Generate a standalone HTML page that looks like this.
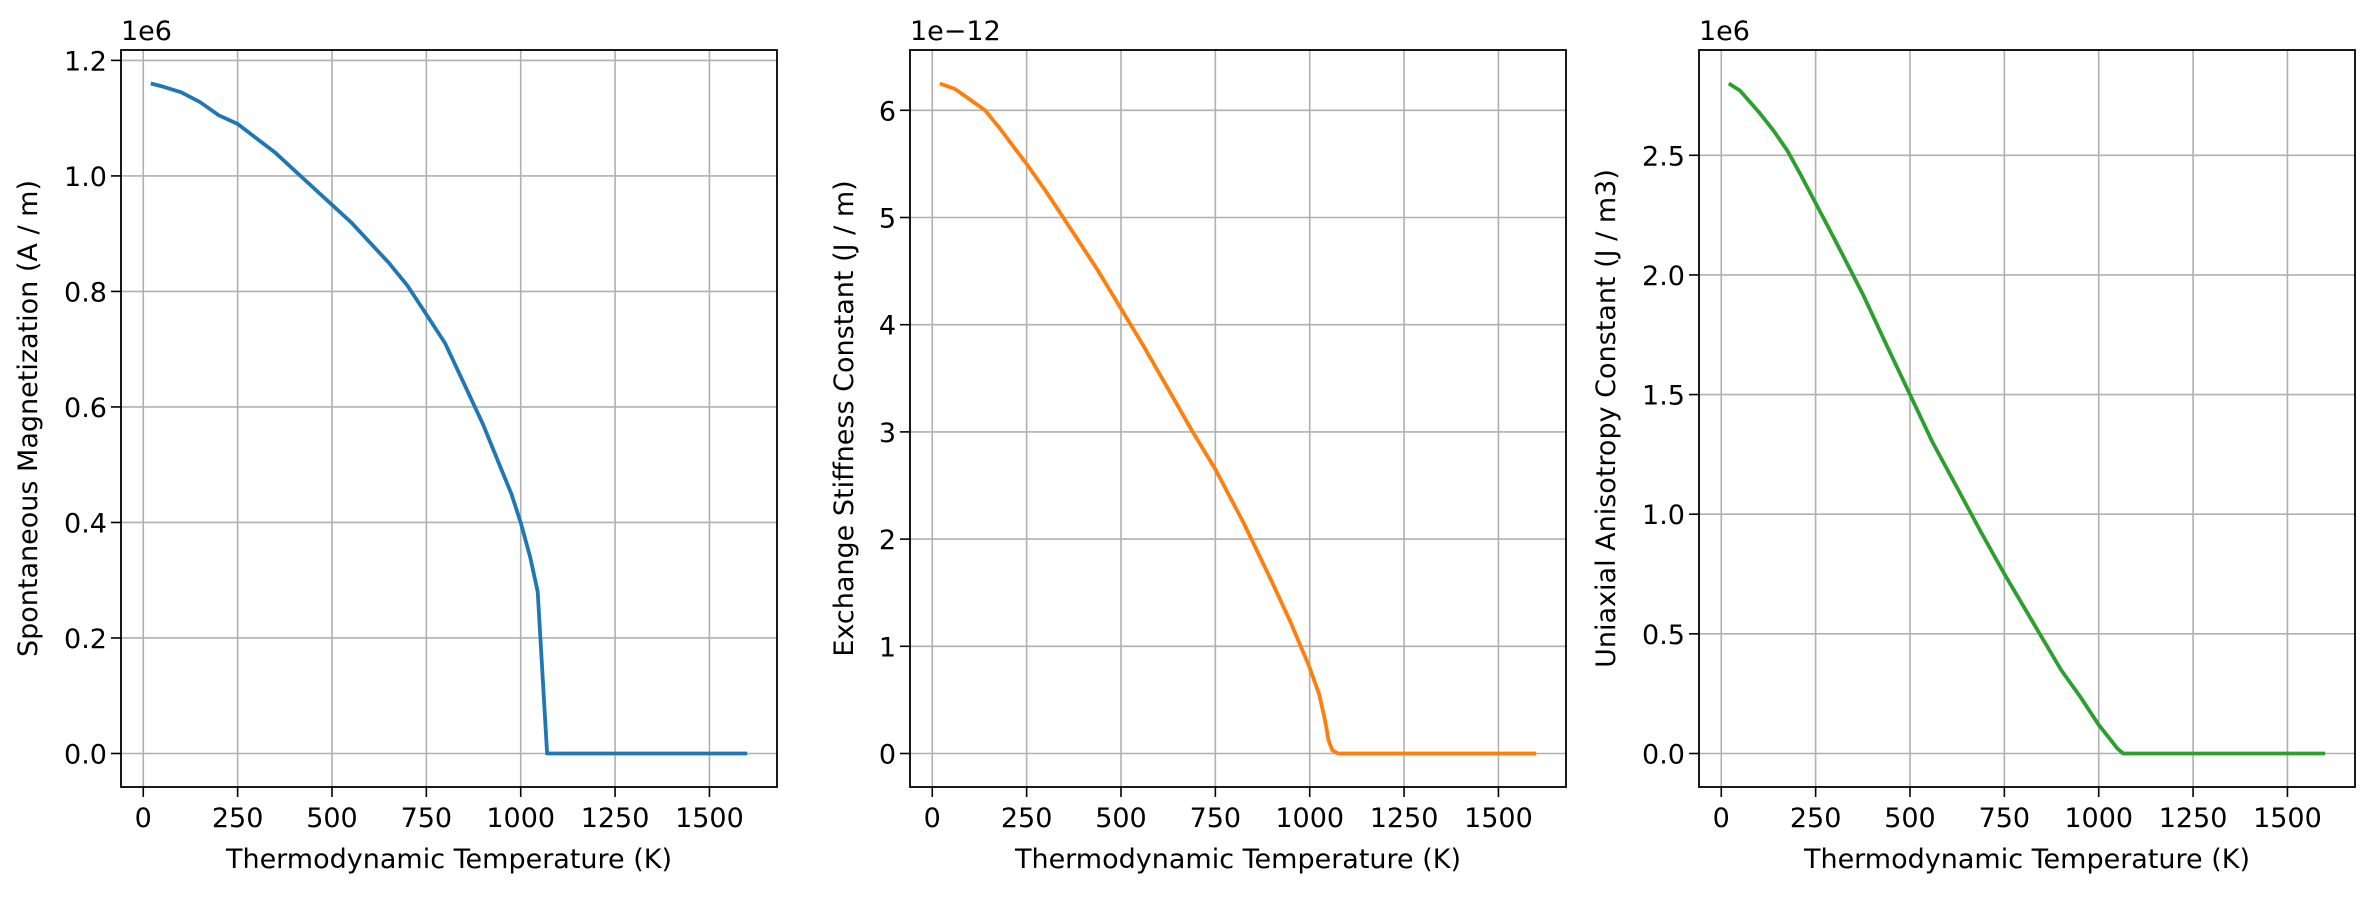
<!DOCTYPE html>
<html><head><meta charset="utf-8"><style>
html,body{margin:0;padding:0;background:#fff;}
svg text{font-family:"DejaVu Sans","Liberation Sans",sans-serif;fill:#000;}
</style></head><body>
<svg id="fig" width="2374" height="896" viewBox="0 0 2374 896" xmlns="http://www.w3.org/2000/svg"></svg>
<script>
const temps1 = [20,50,100,150,200,250,300,350,400,450,500,550,600,650,700,750,800,850,900,950,975,1000,1025,1045,1070,1100,1300,1600];
const magnetization = [1.16,1.155,1.145,1.128,1.105,1.09,1.065,1.04,1.01,0.98,0.95,0.92,0.885,0.85,0.81,0.76,0.71,0.64,0.57,0.49,0.45,0.40,0.34,0.28,0.0,0,0,0];
const temps2 = [20,60,100,140,175,250,300,375,440,500,560,625,690,750,825,900,950,1000,1025,1040,1050,1060,1075,1100,1300,1600];
const exchange = [6.25,6.2,6.1,6.0,5.85,5.5,5.25,4.85,4.5,4.15,3.8,3.4,3.0,2.65,2.15,1.6,1.22,0.8,0.55,0.32,0.12,0.03,0,0,0,0];
const temps3 = [20,50,100,140,175,210,250,300,375,440,500,560,625,690,750,825,900,950,1000,1030,1050,1065,1100,1300,1600];
const anisotropy = [2.8,2.77,2.68,2.6,2.52,2.42,2.3,2.15,1.92,1.7,1.5,1.3,1.11,0.92,0.75,0.55,0.35,0.24,0.12,0.06,0.02,0,0,0,0];
const xTicks = [0,250,500,750,1000,1250,1500];
const yTicks1 = ["0.0","0.2","0.4","0.6","0.8","1.0","1.2"];
const yTicks2 = ["0","1","2","3","4","5","6"];
const yTicks3 = ["0.0","0.5","1.0","1.5","2.0","2.5"];

const NS='http://www.w3.org/2000/svg';
const svg=document.getElementById('fig');
function mk(tag,attrs,parent){const e=document.createElementNS(NS,tag);for(const k in attrs)e.setAttribute(k,attrs[k]);(parent||svg).appendChild(e);return e;}

const panels=[
 {left:121,name:'magnetization',xs:temps1,ys:magnetization,ymin:-0.058,ymax:1.218,ticks:yTicks1,color:'#1f77b4',off:'1e6',ylabel:'Spontaneous Magnetization (A / m)',lab:84},
 {left:910,name:'exchange',xs:temps2,ys:exchange,ymin:-0.3125,ymax:6.5625,ticks:yTicks2,color:'#ff7f0e',off:'1e\u221212',ylabel:'Exchange Stiffness Constant (J / m)',lab:57},
 {left:1699,name:'anisotropy',xs:temps3,ys:anisotropy,ymin:-0.14,ymax:2.94,ticks:yTicks3,color:'#2ca02c',off:'1e6',ylabel:'Uniaxial Anisotropy Constant (J / m3)',lab:84}
];
const PW=656, topY=50, botY=787, xmin=-59, xmax=1679, FS=27;
panels.forEach(p=>{
  const g=mk('g',{});
  
  
  const xs=v=>p.left+(v-xmin)/(xmax-xmin)*PW;
  const ys=v=>botY-(v-p.ymin)/(p.ymax-p.ymin)*(botY-topY);
  xTicks.forEach(t=>{
    const x=xs(t);
    const gl=mk('line',{x1:x,x2:x,y1:topY,y2:botY,stroke:'#b0b0b0','stroke-width':1.6},g);
    
    
    mk('line',{x1:x,x2:x,y1:botY,y2:botY+10,stroke:'#000','stroke-width':1.6},g);
    const tx=mk('text',{x:x,y:botY+40,'text-anchor':'middle','font-size':FS},g);
    tx.textContent=t;
    
    
  });
  p.ticks.forEach(t=>{
    const y=ys(parseFloat(t));
    const gl=mk('line',{x1:p.left,x2:p.left+PW,y1:y,y2:y,stroke:'#b0b0b0','stroke-width':1.6},g);
    
    
    mk('line',{x1:p.left-10,x2:p.left,y1:y,y2:y,stroke:'#000','stroke-width':1.6},g);
    const tx=mk('text',{x:p.left-14,y:y+10,'text-anchor':'end','font-size':FS},g);
    tx.textContent=t;
    
    
  });
  const pts=p.xs.map((v,i)=>xs(v).toFixed(1)+','+ys(p.ys[i]).toFixed(1)).join(' ');
  const line=mk('polyline',{points:pts,fill:'none',stroke:p.color,'stroke-width':3.8,'stroke-linejoin':'round'},g);
  
  
  const fr=mk('rect',{x:p.left,y:topY,width:PW,height:botY-topY,fill:'none',stroke:'#000','stroke-width':1.8},g);
  
  
  const off=mk('text',{x:p.left,y:topY-10,'font-size':FS},g);
  off.textContent=p.off;
  
  
  const xl=mk('text',{x:p.left+PW/2,y:botY+81,'text-anchor':'middle','font-size':FS},g);
  xl.textContent='Thermodynamic Temperature (K)';
  
  
  const cy=(topY+botY)/2, lx=p.left-p.lab;
  const yl=mk('text',{x:lx,y:cy,'text-anchor':'middle','font-size':FS,transform:'rotate(-90 '+lx+' '+cy+')'},g);
  yl.textContent=p.ylabel;
  
  
});
</script>
</body></html>
